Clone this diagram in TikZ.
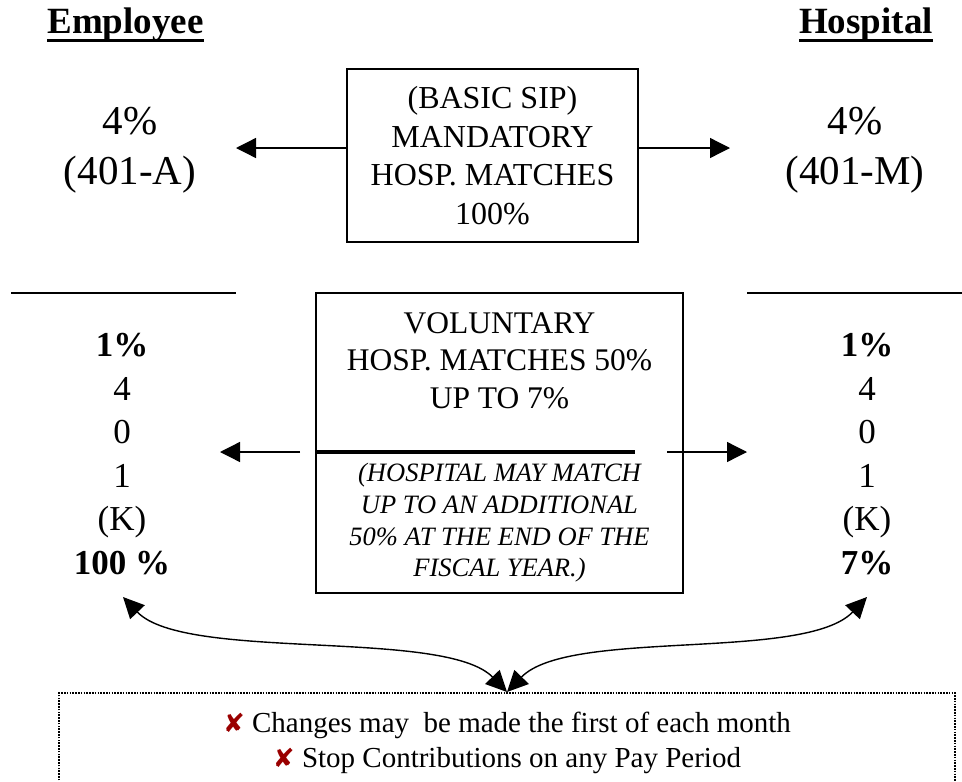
\documentclass[tikz,border=0pt]{standalone}
\usepackage{fontspec}
\setmainfont{Liberation Serif}
\newfontfamily\symfont{DejaVu Sans}
\usetikzlibrary{arrows.meta}
\definecolor{crossred}{HTML}{9A0000}
\newcommand{\redx}{{\symfont\fontsize{26}{26}\selectfont\color{crossred}✘}}
\begin{document}
\begin{tikzpicture}[x=1pt,y=-1pt,
  frame/.style={draw, line width=1.3pt, inner sep=0pt},
  arr/.style={line width=1.3pt, -{Triangle[length=20pt,width=20pt]}},
  curvarr/.style={line width=1.4pt, {Triangle[length=21pt,width=20pt]}-{Triangle[length=21pt,width=20pt]}},
  hdr/.style={inner sep=0pt, anchor=base, font=\fontsize{37}{44}\selectfont\bfseries},
  uline/.style={line width=3pt},
  rule/.style={line width=1.3pt},
  thickrule/.style={line width=3.5pt},
  big/.style={inner sep=0pt, align=center, font=\fontsize{41}{50}\selectfont},
  col/.style={inner sep=0pt, align=center, font=\fontsize{35}{43.6}\selectfont},
  boxtxt/.style={align=center, font=\fontsize{32}{38.5}\selectfont},
  uptxt/.style={inner sep=0pt, align=center, font=\fontsize{31.5}{37.75}\selectfont},
  ittxt/.style={inner sep=0pt, align=center, font=\fontsize{26.5}{31.7}\selectfont\itshape},
  notetxt/.style={inner sep=0pt, align=center, font=\fontsize{29}{35}\selectfont},
  dotline/.style={line width=1.8pt, dash pattern=on 1.6pt off 1.2pt}
]
\clip (0,0) rectangle (962,782);
\useasboundingbox (0,0) rectangle (962,782);

% headers
\node[hdr] (emp) at (125.5,33) {Employee};
\node[hdr] (hosp) at (866,33) {Hospital};
\draw[uline] ([yshift=-7pt]emp.base west) -- ([yshift=-7pt]emp.base east);
\draw[uline] ([yshift=-7pt]hosp.base west) -- ([yshift=-7pt]hosp.base east);

% basic SIP
\node[frame, boxtxt, minimum width=291pt, minimum height=173pt] (b1) at (492.5,155.5)
  {(BASIC SIP)\\MANDATORY\\HOSP. MATCHES\\100\%};
\node[big] (e4) at (130,150.5) {4\%\\(401-A)};
\node[big] (h4) at (855,150.5) {4\%\\(401-M)};
\coordinate (t1) at (236,148);
\coordinate (t2) at (730,148);
\draw[arr] (b1.west |- t1) -- (t1);
\draw[arr] (b1.east |- t2) -- (t2);

% separator lines
\coordinate (l1a) at (11,293);
\coordinate (l1b) at (236,293);
\coordinate (l2a) at (747,293);
\coordinate (l2b) at (962,293);
\draw[rule] (l1a) -- (l1b);
\draw[rule] (l2a) -- (l2b);

% voluntary box
\node[frame, minimum width=367pt, minimum height=300pt] (b2) at (499.5,443) {};
\node[uptxt] (vol) at (499.5,360.7) {VOLUNTARY\\HOSP. MATCHES 50\%\\UP TO 7\%};
\coordinate (mr) at (635,452);
\draw[thickrule] (b2.west |- mr) -- (mr);
\node[ittxt] (add) at (499.5,523) {(HOSPITAL MAY MATCH\\UP TO AN ADDITIONAL\\50\% AT THE END OF THE\\FISCAL YEAR.)};

\coordinate (s1) at (300,452);
\coordinate (t3) at (220,452);
\coordinate (s2) at (667,452);
\coordinate (t4) at (747,452);
\draw[arr] (s1) -- (t3);
\draw[arr] (s2) -- (t4);

% columns
\node[col] (ecol) at (122,454) {\textbf{1\%}\\4\\0\\1\\(K)\\\textbf{100 \%}};
\node[col] (hcol) at (867,454) {\textbf{1\%}\\4\\0\\1\\(K)\\\textbf{7\%}};

% note box
\coordinate (nl) at (59,693);
\coordinate (nr) at (955,693);
\draw[dotline] (59,800) -- (nl) -- (nr) -- (955,800);
\node[notetxt] (note) at (507,743)
  {\redx\ Changes may\ \ be made the first of each month\\\redx\ Stop Contributions on any Pay Period};

% curved arrows
\coordinate (ca) at (123,597);
\coordinate (cb) at (867,597);
\coordinate (cm) at (507,692);
\draw[curvarr] (ca) .. controls (185,662) and (445,628) .. (cm);
\draw[curvarr] (cb) .. controls (805,662) and (569,628) .. (cm);
\end{tikzpicture}
\end{document}
